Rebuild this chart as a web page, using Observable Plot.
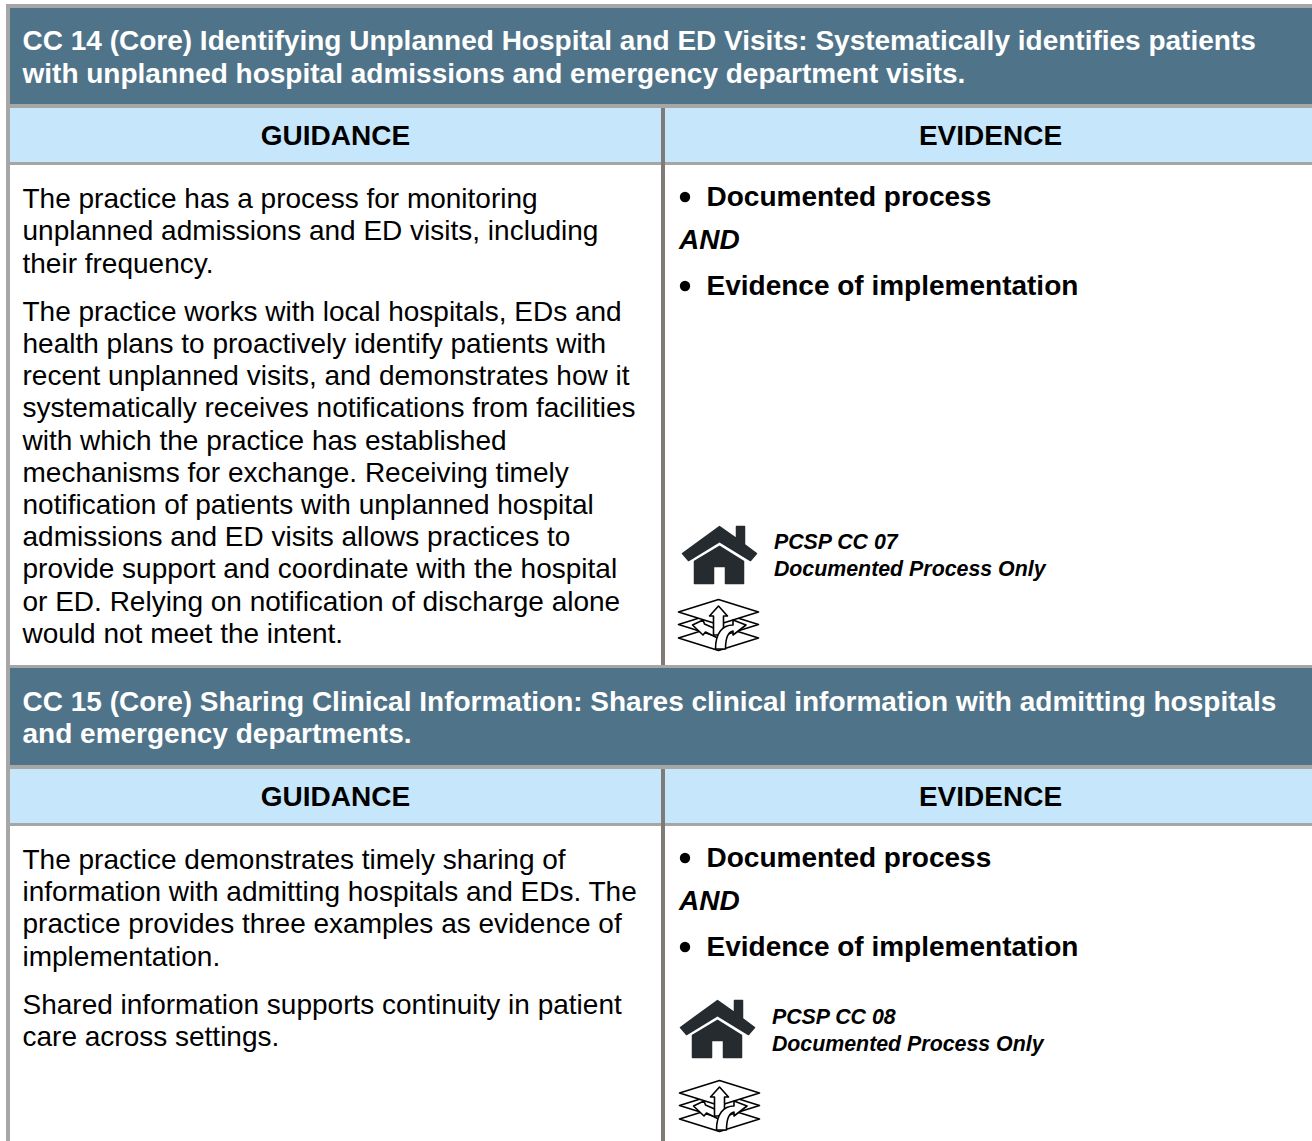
<!DOCTYPE html>
<html><head><meta charset="utf-8">
<style>html,body{margin:0;padding:0;background:#fff;overflow:hidden}svg{display:block}</style>
<script src="https://cdn.jsdelivr.net/npm/d3@7"></script>
<script src="https://cdn.jsdelivr.net/npm/@observablehq/plot@0.6"></script>
</head><body><div id="chart"></div>
<script>
// ---- text content ----
const title14 = ["CC 14 (Core) Identifying Unplanned Hospital and ED Visits: Systematically identifies patients",
  "with unplanned hospital admissions and emergency department visits."];
const title15 = ["CC 15 (Core) Sharing Clinical Information: Shares clinical information with admitting hospitals",
  "and emergency departments."];
const columnHeads = ["GUIDANCE", "EVIDENCE"];
const guidance14 = ["The practice has a process for monitoring","unplanned admissions and ED visits, including","their frequency.",
  "The practice works with local hospitals, EDs and","health plans to proactively identify patients with","recent unplanned visits, and demonstrates how it",
  "systematically receives notifications from facilities","with which the practice has established","mechanisms for exchange. Receiving timely",
  "notification of patients with unplanned hospital","admissions and ED visits allows practices to","provide support and coordinate with the hospital",
  "or ED. Relying on notification of discharge alone","would not meet the intent."];
const guidance15 = ["The practice demonstrates timely sharing of","information with admitting hospitals and EDs. The","practice provides three examples as evidence of",
  "implementation.","Shared information supports continuity in patient","care across settings."];
const evidenceItems = ["Documented process","Evidence of implementation"];
const connector = "AND";
const pcsp14 = ["PCSP CC 07","Documented Process Only"];
const pcsp15 = ["PCSP CC 08","Documented Process Only"];

// ---- page layout (pixel grid of the table) ----
const W = 1312, H = 1141;
const baselines = {
  title14:[49,82], title15:[710,742], heads:[144,805],
  g14:[207,239,272,320,352,384,416,449,481,513,545,577,610,642],
  g15:[868,900,932,965,1013,1045],
  ev14:[205,294], and14:248, ev15:[866,955], and15:909,
  p14:[548,575], p15:[1023,1050]
};
const gridLines = [[6,W,4,8],[6,W,104,108],[6,W,162,165],[6,W,665,668],[6,W,765,769],[6,W,823,826],[6,10,4,H]];
const dividers = [[661,665,108,665],[661,665,769,H]];
const darkBands = [[10,W,8,104],[10,W,668,765]];
const lightBands = [[10,661,108,162],[665,W,108,162],[10,661,769,823],[665,W,769,823]];
const boxes = a => a.map(([x1,x2,y1,y2]) => ({x1,x2,y1,y2}));
const zip = (lines, ys, x) => lines.map((t,i) => ({t, x, y:ys[i]}));
const houses = [{x:719,y:555},{x:717,y:1029}];
const layers = [{x:718,y:625.5},{x:719,y:1106.5}];

// ---- icons as Plot dot symbols (unit = r/40) ----
const unit = size => Math.sqrt(size/Math.PI)/40;
const poly = (c,u,pts) => { pts.forEach(([a,b],i)=> i? c.lineTo(a*u,b*u): c.moveTo(a*u,b*u)); c.closePath(); };
const houseSym = {draw(c,size){ const u=unit(size);
  poly(c,u,[[-37,-2],[0,-29],[17,-17],[17,-29],[25,-29],[25,-11],[37,-2],[31,5],[0,-14],[-31,5]]);
  poly(c,u,[[0,-9],[24,6],[24,28],[6,28],[6,11],[-6,11],[-6,28],[-25,28],[-25,6]]);
}};
const planeSym = {draw(c,size){ poly(c,unit(size),[[-40,0],[0,-12.5],[40,0],[0,12.5]]); }};
const upArrow = {draw(c,size){ poly(c,unit(size),[[0,-20],[9,-10],[5,-10],[5,9],[-5,9],[-5,-10],[-9,-10]]); }};
const leftArrow = {draw(c,size){ poly(c,unit(size),[[-26,-1],[-15.5,-6],[-14,-2],[2,5],[-1,12],[-13,6],[-15.5,9]]); }};
const rightArrow = {draw(c,size){ const u=unit(size);
  c.moveTo(27.5*u,-1*u); c.lineTo(14.5*u,-6*u); c.lineTo(14.5*u,-1*u);
  c.bezierCurveTo(4*u,-1*u,-3*u,7*u,-3*u,23*u); c.lineTo(7*u,23*u);
  c.bezierCurveTo(7*u,10*u,10*u,6*u,14.5*u,5*u); c.lineTo(14.5*u,9*u); c.closePath();
}};
const planeData = layers.flatMap(d => [12,-1.5,-14].map(o => ({x:d.x,y:d.y+o})));

const font = "Liberation Sans";
const rects = (a,fill) => Plot.rect(boxes(a),{x1:"x1",x2:"x2",y1:"y1",y2:"y2",fill});
const txt = (data,o) => Plot.text(data,{x:"x",y:"y",text:"t",lineAnchor:"bottom",textAnchor:"start",fontSize:28,fill:"#000",...o});
const bullets = [...baselines.ev14,...baselines.ev15].map(y => ({x:684.5,y:y-8.5}));
const outline = {x:"x",y:"y",r:40,fill:"#fff",stroke:"#000",strokeWidth:1.6,strokeLinejoin:"round"};

const chart = Plot.plot({
  width:W, height:H, margin:0,
  x:{domain:[0,W],range:[0,W],axis:null},
  y:{domain:[0,H],range:[0,H],axis:null},
  style:{fontFamily:font,background:"#fff"},
  marks:[
    rects(darkBands,"#4f7489"),
    rects(lightBands,"#c6e7fb"),
    rects(gridLines,"#a6a6a6"),
    rects(dividers,"#7f7c78"),
    txt([...zip(title14,baselines.title14,22),...zip(title15,baselines.title15,22)],{fill:"#fff",fontWeight:"bold"}),
    txt([{t:columnHeads[0],x:335,y:baselines.heads[0]},{t:columnHeads[1],x:990,y:baselines.heads[0]},
         {t:columnHeads[0],x:335,y:baselines.heads[1]},{t:columnHeads[1],x:990,y:baselines.heads[1]}],{fontWeight:"bold",textAnchor:"middle"}),
    txt([...zip(guidance14,baselines.g14,22),...zip(guidance15,baselines.g15,22)],{}),
    txt([...zip(evidenceItems,baselines.ev14,706),...zip(evidenceItems,baselines.ev15,706)],{fontWeight:"bold"}),
    Plot.dot(bullets,{x:"x",y:"y",r:5.2,fill:"#000"}),
    txt([{t:connector,x:678.5,y:baselines.and14},{t:connector,x:678.5,y:baselines.and15}],{fontWeight:"bold",fontStyle:"italic"}),
    txt([...zip(pcsp14,baselines.p14,773.4),...zip(pcsp15,baselines.p15,771.4)],{fontWeight:"bold",fontStyle:"italic",fontSize:21.35}),
    Plot.dot(houses,{x:"x",y:"y",r:40,symbol:houseSym,fill:"#262b2f",stroke:"#262b2f",strokeWidth:1.5,strokeLinejoin:"round"}),
    Plot.dot(planeData,{...outline,symbol:planeSym}),
    Plot.dot(layers,{...outline,symbol:leftArrow}),
    Plot.dot(layers,{...outline,symbol:upArrow}),
    Plot.dot(layers,{...outline,symbol:rightArrow})
  ]
});
document.getElementById("chart").append(chart);
</script></body></html>
